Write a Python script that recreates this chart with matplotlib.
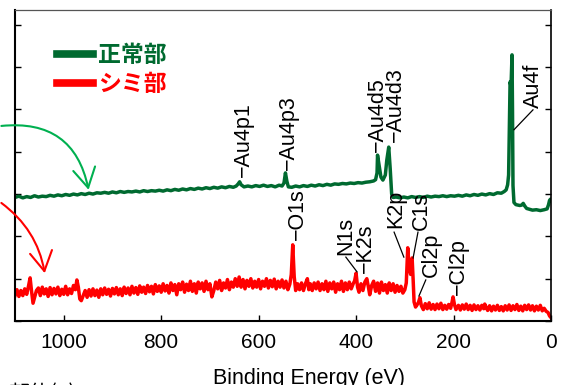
import matplotlib
matplotlib.use("Agg")
import matplotlib.pyplot as plt
from matplotlib.lines import Line2D

plt.rcParams['font.family'] = ['Liberation Sans', 'Noto Sans CJK JP', 'DejaVu Sans']

# 正常部 (green) spectrum, binding energy (eV) / intensity (a.u.)
green_ev = [1100, 1092, 1084, 1076, 1068, 1060, 1052, 1044, 1036, 1028, 1020, 1012, 1004, 996, 988,
            980, 972, 964, 956, 948, 940, 932, 924, 916, 908, 900, 892, 884, 876, 868, 860, 852,
            844, 836, 828, 820, 812, 804, 796, 788, 780, 772, 764, 756, 748, 740, 732, 724, 716,
            708, 700, 692, 684, 676, 668, 660, 652, 646, 642, 639, 636, 630, 622, 614, 606, 598,
            590, 582, 574, 566, 558, 552, 548, 545, 542, 539, 532, 524, 516, 508, 500, 492, 484,
            476, 468, 460, 452, 444, 436, 428, 420, 412, 404, 396, 388, 380, 372, 364, 360, 357,
            356, 353, 349, 345, 340, 337, 333, 330, 327, 324, 318, 310, 302, 294, 286, 278, 270,
            262, 254, 246, 238, 230, 222, 214, 206, 198, 190, 182, 174, 166, 158, 150, 142, 134,
            126, 118, 110, 102, 96, 92, 89, 87, 85, 84, 82, 80, 79, 78, 76, 72, 68, 64, 60, 57,
            54, 50, 44, 38, 30, 22, 14, 8, 5, 3, 1, 0]
green_int = [2.92, 2.95, 2.91, 2.94, 2.92, 2.96, 2.93, 2.95, 2.94, 2.97, 2.95, 2.98, 2.96, 2.99, 2.97,
             3.00, 2.98, 3.01, 2.99, 3.02, 3.00, 3.03, 3.02, 3.04, 3.02, 3.05, 3.03, 3.06, 3.04, 3.06,
             3.05, 3.07, 3.05, 3.08, 3.06, 3.08, 3.07, 3.09, 3.07, 3.10, 3.08, 3.11, 3.09, 3.12, 3.10,
             3.13, 3.11, 3.14, 3.12, 3.15, 3.13, 3.16, 3.14, 3.17, 3.15, 3.18, 3.16, 3.19, 3.24, 3.29,
             3.22, 3.17, 3.19, 3.17, 3.20, 3.18, 3.21, 3.18, 3.20, 3.17, 3.21, 3.19, 3.26, 3.50, 3.30,
             3.17, 3.16, 3.19, 3.17, 3.20, 3.18, 3.21, 3.19, 3.22, 3.20, 3.23, 3.21, 3.24, 3.23, 3.25,
             3.24, 3.26, 3.25, 3.27, 3.26, 3.28, 3.29, 3.31, 3.34, 3.50,
             3.92, 3.70, 3.40, 3.33, 3.45, 3.80, 4.11, 3.60, 3.00, 2.92, 2.93, 2.91, 2.93, 2.91, 2.94,
             2.92, 2.94, 2.92, 2.95, 2.93, 2.95, 2.94, 2.96, 2.94, 2.96, 2.95, 2.97, 2.95, 2.98, 2.96,
             2.99, 2.97, 3.00, 2.98, 3.01, 2.99, 3.03, 3.02, 3.06, 3.10, 3.22, 3.45, 5.00, 5.65, 5.55,
             6.29, 5.00, 3.20, 2.80, 2.75, 2.74, 2.73, 2.74, 2.78, 2.72, 2.66, 2.64, 2.62, 2.63, 2.61,
             2.63, 2.65, 2.75, 2.85, 2.88, 2.86]

# シミ部 (red) spectrum
red_ev = [1100, 1096, 1092, 1088, 1084, 1080, 1076, 1072, 1069, 1066, 1063, 1060, 1056, 1052, 1048,
          1044, 1040, 1036, 1032, 1028, 1024, 1020, 1016, 1012, 1008, 1004, 1000, 996, 992, 988,
          984, 980, 976, 973, 970, 967, 964, 960, 956, 952, 948, 944, 940, 936, 932, 928, 924,
          920, 916, 912, 908, 904, 900, 896, 892, 888, 884, 880, 876, 872, 868, 864, 860, 856,
          852, 848, 844, 840, 836, 832, 828, 824, 820, 816, 812, 808, 804, 800, 796, 792, 788,
          784, 780, 776, 772, 768, 764, 760, 756, 752, 748, 744, 740, 736, 732, 728, 724, 720,
          716, 712, 708, 704, 700, 696, 692, 688, 684, 680, 676, 672, 668, 664, 660, 656, 652,
          648, 644, 640, 636, 632, 628, 624, 620, 616, 612, 608, 604, 600, 596, 592, 588, 584,
          580, 576, 572, 568, 564, 560, 556, 552, 548, 544, 540, 536, 533, 530, 527, 524, 520,
          516, 512, 508, 504, 500, 497, 494, 490, 486, 482, 478, 474, 470, 466, 462, 458, 454,
          450, 446, 442, 438, 434, 430, 426, 422, 418, 414, 410, 406, 403, 400, 397, 394, 390,
          386, 382, 378, 375, 372, 368, 364, 360, 356, 352, 348, 344, 340, 336, 332, 328, 324,
          320, 316, 312, 308, 304, 300, 297, 294, 291, 288, 285, 283, 281, 278, 275, 272, 269,
          266, 262, 258, 254, 250, 246, 242, 238, 234, 230, 226, 222, 218, 214, 210, 206, 203,
          201, 198, 195, 190, 186, 182, 178, 174, 170, 166, 162, 158, 154, 150, 146, 142, 138,
          136, 133, 130, 126, 122, 118, 114, 110, 106, 102, 98, 94, 90, 86, 82, 78, 74, 70, 66,
          62, 58, 54, 50, 46, 42, 38, 34, 30, 26, 22, 18, 14, 10, 6, 3, 0]
red_int = [0.60, 0.74, 0.58, 0.72, 0.60, 0.76, 0.63, 0.84, 1.02, 0.70, 0.42, 0.55, 0.72, 0.78, 0.60,
           0.80, 0.64, 0.76, 0.58, 0.79, 0.62, 0.77, 0.64, 0.80, 0.60, 0.75, 0.63, 0.82, 0.62, 0.76,
           0.65, 0.84, 0.74, 0.97, 0.80, 0.52, 0.48, 0.60, 0.72, 0.56, 0.74, 0.59, 0.76, 0.60, 0.73,
           0.56, 0.76, 0.62, 0.78, 0.63, 0.75, 0.59, 0.77, 0.64, 0.79, 0.62, 0.76, 0.60, 0.80, 0.65,
           0.78, 0.62, 0.82, 0.66, 0.79, 0.63, 0.83, 0.68, 0.80, 0.65, 0.84, 0.69, 0.82, 0.64, 0.86,
           0.70, 0.83, 0.68, 0.88, 0.71, 0.84, 0.66, 0.90, 0.72, 0.86, 0.62, 0.88, 0.74, 0.92, 0.68,
           0.87, 0.72, 0.94, 0.70, 0.88, 0.66, 0.92, 0.76, 0.90, 0.70, 0.94, 0.74, 0.88, 0.57, 0.72,
           0.92, 0.76, 0.96, 0.72, 0.90, 0.78, 0.98, 0.74, 0.92, 0.80, 1.00, 0.82, 1.04, 0.80, 0.98,
           0.76, 0.96, 0.82, 1.00, 0.78, 0.94, 0.80, 0.98, 0.76, 0.94, 0.82, 1.00, 0.78, 0.96, 0.81,
           0.99, 0.76, 0.94, 0.80, 0.97, 0.78, 0.94, 0.74, 0.87, 1.10, 1.80, 1.05, 0.72, 0.88, 0.74,
           0.90, 0.72, 0.88, 1.00, 0.74, 0.88, 0.72, 0.90, 0.76, 0.92, 0.72, 0.88, 0.74, 0.94, 0.70,
           0.90, 0.76, 0.92, 0.68, 0.88, 0.74, 0.94, 0.70, 0.90, 0.74, 0.92, 0.76, 0.88, 0.95, 1.13,
           0.80, 0.68, 0.88, 0.72, 0.92, 1.00, 0.82, 0.62, 0.84, 0.94, 0.70, 0.90, 0.66, 0.92, 0.72,
           0.86, 0.66, 0.90, 0.72, 0.88, 0.68, 0.84, 0.70, 0.82, 0.66, 0.74, 0.90, 1.73, 1.25, 1.10,
           1.49, 1.00, 0.45, 0.33, 0.38, 0.44, 0.55, 0.36, 0.27, 0.41, 0.29, 0.43, 0.28, 0.39, 0.27,
           0.40, 0.29, 0.42, 0.27, 0.37, 0.28, 0.39, 0.30, 0.45, 0.57, 0.38, 0.27, 0.37, 0.26, 0.38,
           0.28, 0.40, 0.27, 0.37, 0.25, 0.38, 0.27, 0.36, 0.26, 0.37, 0.29, 0.40, 0.32, 0.25, 0.36,
           0.24, 0.35, 0.26, 0.37, 0.25, 0.34, 0.24, 0.36, 0.26, 0.38, 0.25, 0.36, 0.27, 0.39, 0.25,
           0.35, 0.24, 0.37, 0.27, 0.38, 0.26, 0.36, 0.24, 0.35, 0.26, 0.37, 0.24, 0.30, 0.23, 0.20,
           0.12, 0.08]

# peak labels: text, x, y  (vertical, leader dash at the bottom)
peak_names = ['−Au4p1', '−Au4p3', '−Au4d5', '−Au4d3', '−O1s', '−K2s', '−Cl2p']
peak_x = [632, 538, 357, 320, 520, 380, 189]
peak_y = [3.40, 3.57, 4.00, 4.23, 1.91, 1.13, 0.61]

# labels with slanted leader lines: text, text x/y, leader start x/y, leader end x/y
lead_names = ['Au4f', 'N1s', 'K2p', 'C1s', 'Cl2p']
lead_tx = [35, 421, 318, 267, 246]
lead_ty = [5.04, 1.56, 2.20, 2.15, 1.04]
lead_x0 = [37, 421, 322, 273, 257]
lead_y0 = [4.99, 1.51, 2.10, 2.10, 0.97]
lead_x1 = [76, 398, 302, 283, 271]
lead_y1 = [4.52, 1.16, 1.51, 1.49, 0.59]

green = '#006a30'
red = '#ff0000'

fig = plt.figure(figsize=(5.67, 3.85), dpi=100)
ax = fig.add_axes([15/567, 64/385, 536/567, 311/385])

ax.plot(green_ev, green_int, color=green, lw=2.5, solid_joinstyle='round')
ax.plot(red_ev, red_int, color=red, lw=2.5, solid_joinstyle='round')

ax.set_xlim(1100, 0)
ax.set_ylim(0, 7.35)
ax.set_xticks([1000, 800, 600, 400, 200, 0])
ax.set_yticks(range(0, 8))
ax.set_yticklabels([])
ax.tick_params(axis='x', direction='in', length=4, width=1, labelsize=15, pad=9)
ax.tick_params(axis='y', direction='in', length=4, width=1, left=True, right=True)
for s in ['left', 'bottom']:
    ax.spines[s].set_linewidth(1.5)
ax.spines['right'].set_linewidth(1.2)
ax.spines['top'].set_linewidth(0.9)
ax.spines['top'].set_color('#555555')

for i in range(len(peak_names)):
    ax.text(peak_x[i], peak_y[i], peak_names[i], rotation=90, ha='center', va='bottom', fontsize=15.5)

for i in range(len(lead_names)):
    ax.text(lead_tx[i], lead_ty[i], lead_names[i], rotation=90, ha='center', va='bottom', fontsize=15.5)
    ax.plot([lead_x0[i], lead_x1[i]], [lead_y0[i], lead_y1[i]], color='black', lw=0.9)

# legend
handles = [Line2D([], [], color=green, lw=5.5), Line2D([], [], color=red, lw=5.5)]
leg = ax.legend(handles, ['正常部', 'シミ部'], loc='upper left',
                bbox_to_anchor=(57/567, (385-44)/385), bbox_transform=fig.transFigure,
                frameon=False, borderpad=0, borderaxespad=0, handlelength=1.55,
                handletextpad=0.25, labelspacing=0.25,
                prop={'family': ['Noto Sans CJK JP', 'DejaVu Sans'], 'weight': 'bold', 'size': 16.5})
leg.get_texts()[0].set_color(green)
leg.get_texts()[1].set_color(red)

# arrows coming from outside the plot
ax.annotate('', xy=(949, 3.10), xytext=(1128, 4.61), annotation_clip=False,
            arrowprops=dict(arrowstyle='->,head_length=0.7,head_width=0.4', mutation_scale=20,
                            connectionstyle='arc3,rad=-0.45', color='#00b050', lw=1.5,
                            shrinkA=0, shrinkB=0))
ax.annotate('', xy=(1039, 1.13), xytext=(1128, 2.79), annotation_clip=False,
            arrowprops=dict(arrowstyle='->,head_length=0.7,head_width=0.4', mutation_scale=20,
                            connectionstyle='arc3,rad=-0.2', color=red, lw=1.5,
                            shrinkA=0, shrinkB=0))

fig.text(309/567, (385-368)/385, 'Binding Energy (eV)', ha='center', va='top', fontsize=15.5)
# caption below, cut off by the bottom edge as in the source
fig.text(8/567, (385-383)/385, '部位(a)', ha='left', va='top', fontsize=15,
         family=['Noto Sans CJK JP', 'DejaVu Sans'])

fig.savefig('out.png', dpi=100)
